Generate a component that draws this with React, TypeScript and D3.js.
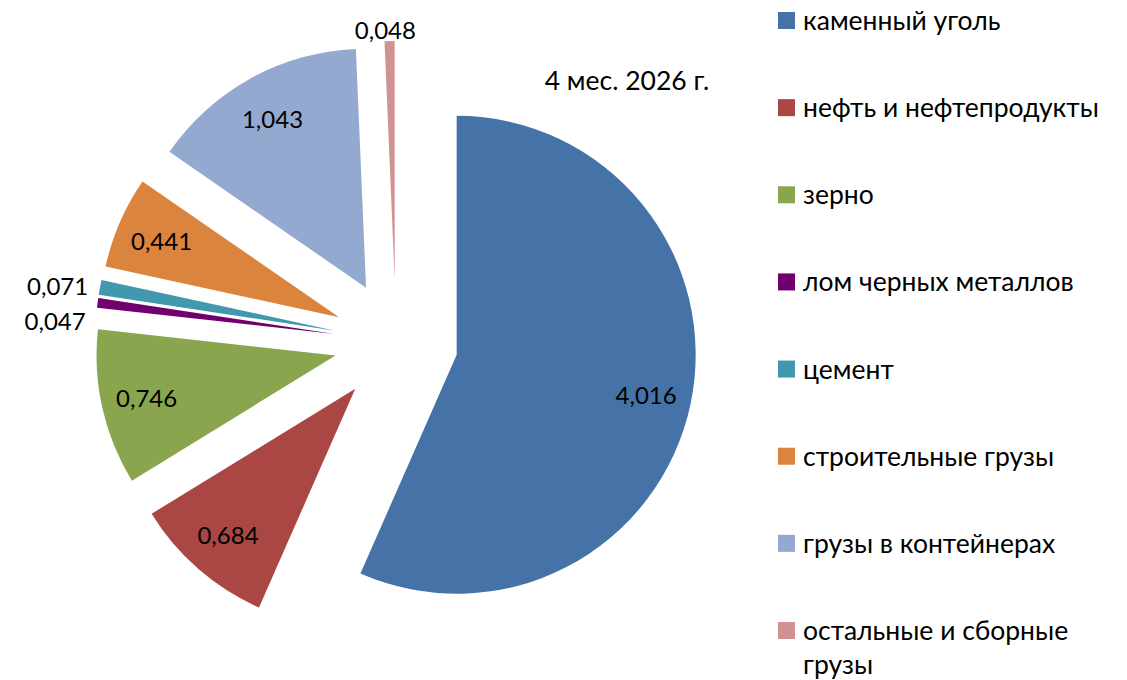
import React from 'react'
import * as d3 from 'd3'

const categories = [
  'каменный уголь',
  'нефть и нефтепродукты',
  'зерно',
  'лом черных металлов',
  'цемент',
  'строительные грузы',
  'грузы в контейнерах',
  'остальные и сборные грузы',
]
const values = [4.016, 0.684, 0.746, 0.047, 0.071, 0.441, 1.043, 0.048]
const colors = ['#4572A7', '#AA4643', '#89A54E', '#71006F', '#4198AF', '#DB843D', '#93A9CF', '#D19392']
const title = '4 мес. 2026 г.'

const W = 1127
const H = 680
const FONT = 'Lato, "Open Sans", sans-serif'

const fmt = (v: number) => v.toFixed(3).replace('.', ',')

export default function App() {
  const cx = 396
  const cy = 342
  const r = 239
  const explode = 62

  const pie = d3.pie<number>().sort(null).startAngle(0).endAngle(2 * Math.PI).value((d) => d)
  const arcs = pie(values)
  const path = d3.arc<d3.PieArcDatum<number>>().innerRadius(0).outerRadius(r)

  const slices = arcs.map((a, i) => {
    const mid = (a.startAngle + a.endAngle) / 2
    const dx = Math.sin(mid)
    const dy = -Math.cos(mid)
    const ox = cx + explode * dx
    const oy = cy + explode * dy
    const small = a.data < 0.1
    const lr = small ? r + 12 : r * 0.81
    let anchor = 'middle'
    if (small && Math.abs(dx) > 0.3) anchor = dx < 0 ? 'end' : 'start'
    return { a, i, ox, oy, lx: ox + lr * dx - (anchor === 'middle' && small ? 4 : 0), ly: oy + lr * dy, small, anchor }
  })

  // keep the outside labels on the left from overlapping
  const left = slices.filter((s) => s.small && s.anchor === 'end').sort((p, q) => p.ly - q.ly)
  for (let k = 1; k < left.length; k++) {
    if (left[k].ly - left[k - 1].ly < 35) left[k].ly = left[k - 1].ly + 35
  }

  const legendY = d3.scalePoint<number>().domain(d3.range(categories.length)).range([20, 630])

  return (
    <svg width={W} height={H} style={{ position: 'absolute', left: 0, top: 0, background: '#fff' }} fontFamily={FONT}>
      {slices.map((s) => (
        <g key={s.i} transform={`translate(${s.ox},${s.oy})`}>
          <path d={path(s.a) as string} fill={colors[s.i]} />
        </g>
      ))}
      {slices.map((s) => (
        <text key={'l' + s.i} x={s.lx} y={s.ly} textAnchor={s.anchor} dominantBaseline="central" fontSize={24} fill="#000">
          {fmt(s.a.data)}
        </text>
      ))}
      <text x={627} y={80} textAnchor="middle" dominantBaseline="central" fontSize={26.5} fill="#000">
        {title}
      </text>
      {categories.map((c, i) => {
        const y = legendY(i) as number
        const words = c === 'остальные и сборные грузы' ? ['остальные и сборные', 'грузы'] : [c]
        return (
          <g key={'lg' + i}>
            <rect x={778} y={y - 8} width={17} height={17} fill={colors[i]} />
            {words.map((w, j) => (
              <text key={j} x={803} y={y + j * 34} dominantBaseline="central" fontSize={26.5} fill="#000">
                {w}
              </text>
            ))}
          </g>
        )
      })}
    </svg>
  )
}
